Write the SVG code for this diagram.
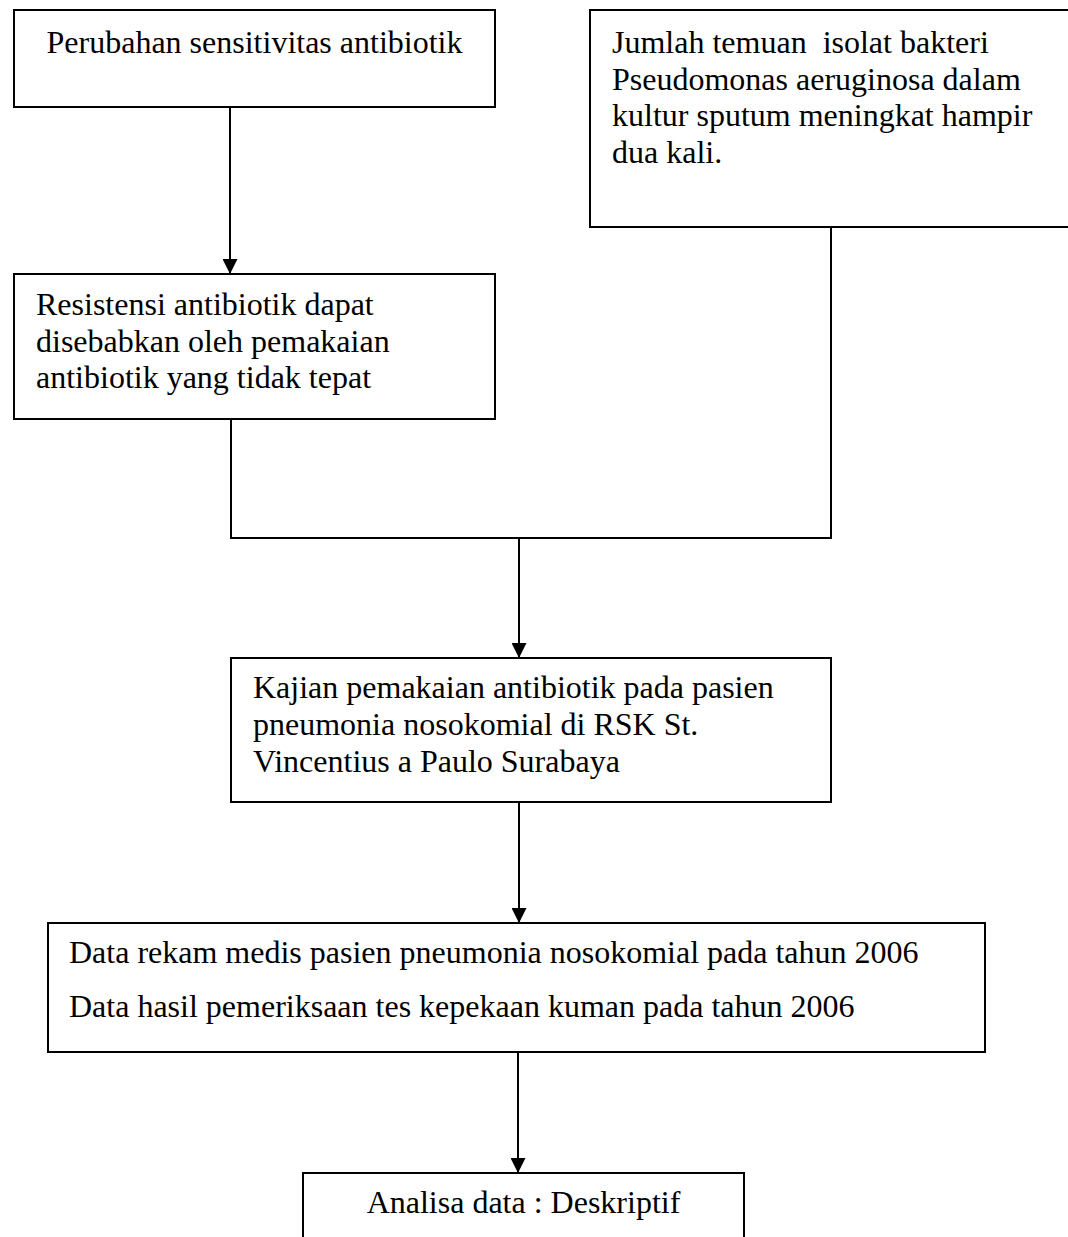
<svg xmlns="http://www.w3.org/2000/svg" width="1068" height="1237" viewBox="0 0 1068 1237">
<style>
.box{fill:#fff;stroke:#000;stroke-width:2}
.t{font-family:"Liberation Serif","Times New Roman",serif;font-size:32px;fill:#000}
.c{text-anchor:middle}
.ln{fill:none;stroke:#000;stroke-width:2}
</style>
<defs>
<marker id="ah" markerUnits="userSpaceOnUse" markerWidth="15" markerHeight="15" refX="15" refY="7.5" orient="auto">
<path d="M0,0 L15,7.5 L0,15 z" fill="#000"/>
</marker>
</defs>
<rect width="1068" height="1237" fill="#fff"/>
<g id="connectors">
<path class="ln" d="M230,107 V274" marker-end="url(#ah)"/>
<path class="ln" d="M231,419 V538 H831 V227"/>
<path class="ln" d="M519,538 V658" marker-end="url(#ah)"/>
<path class="ln" d="M519,802 V923" marker-end="url(#ah)"/>
<path class="ln" d="M518,1052 V1173" marker-end="url(#ah)"/>
</g>
<g id="n1">
<rect class="box" x="14" y="10" width="481" height="97"/>
<text class="t c" x="254.5" y="53">Perubahan sensitivitas antibiotik</text>
</g>
<g id="n2">
<rect class="box" x="14" y="274" width="481" height="145"/>
<text class="t" x="36" y="315">Resistensi antibiotik dapat</text>
<text class="t" x="36" y="352">disebabkan oleh pemakaian</text>
<text class="t" x="36" y="388">antibiotik yang tidak tepat</text>
</g>
<g id="n3">
<rect class="box" x="590" y="10" width="500" height="217"/>
<text class="t" x="612" y="53" xml:space="preserve">Jumlah temuan  isolat bakteri</text>
<text class="t" x="612" y="90">Pseudomonas aeruginosa dalam</text>
<text class="t" x="612" y="126">kultur sputum meningkat hampir</text>
<text class="t" x="612" y="163">dua kali.</text>
</g>
<g id="n4">
<rect class="box" x="231" y="658" width="600" height="144"/>
<text class="t" x="253" y="698">Kajian pemakaian antibiotik pada pasien</text>
<text class="t" x="253" y="735">pneumonia nosokomial di RSK St.</text>
<text class="t" x="253" y="772">Vincentius a Paulo Surabaya</text>
</g>
<g id="n5">
<rect class="box" x="48" y="923" width="937" height="129"/>
<text class="t" x="69" y="963">Data rekam medis pasien pneumonia nosokomial pada tahun 2006</text>
<text class="t" x="69" y="1017">Data hasil pemeriksaan tes kepekaan kuman pada tahun 2006</text>
</g>
<g id="n6">
<rect class="box" x="303" y="1173" width="441" height="90"/>
<text class="t c" x="523.5" y="1213">Analisa data : Deskriptif</text>
</g>
</svg>
